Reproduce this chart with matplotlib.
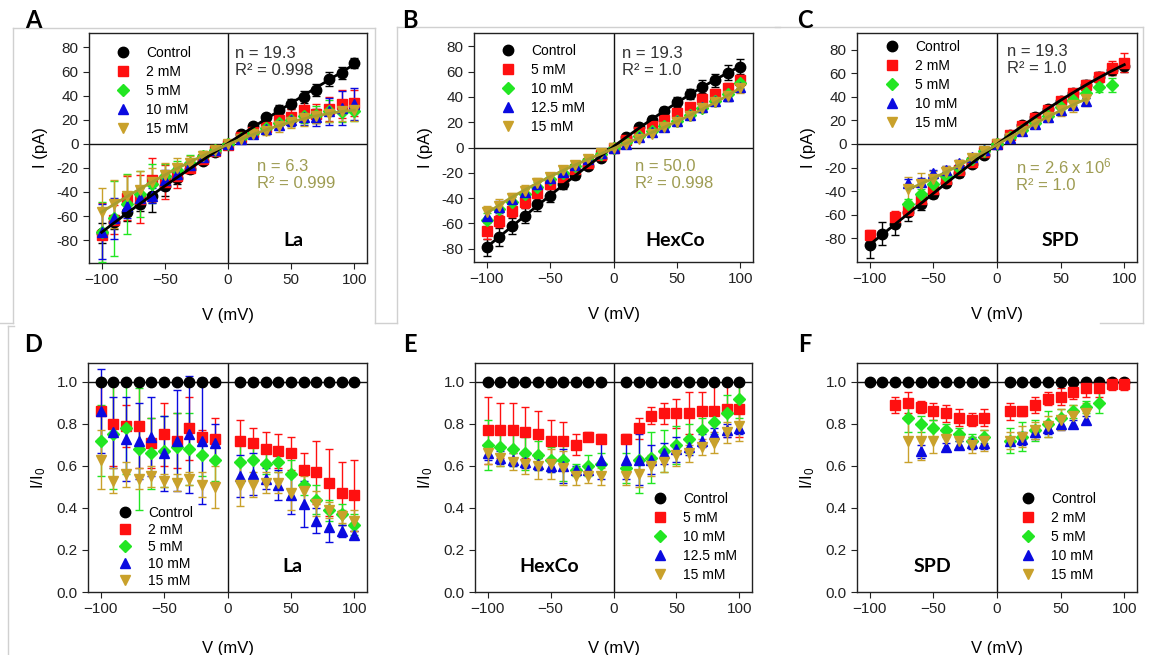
import numpy as np
import matplotlib
matplotlib.use('Agg')
import matplotlib.pyplot as plt
from matplotlib.lines import Line2D

plt.rcParams['font.family'] = ['Liberation Sans', 'DejaVu Sans']
plt.rcParams['mathtext.fontset'] = 'custom'
plt.rcParams['mathtext.rm'] = 'Liberation Sans'
plt.rcParams['mathtext.default'] = 'regular'

nan = np.nan

# ---------------- data ----------------
v_iv = [-100, -90, -80, -70, -60, -50, -40, -30, -20, -10, 0,
        10, 20, 30, 40, 50, 60, 70, 80, 90, 100]
v_norm = [-100, -90, -80, -70, -60, -50, -40, -30, -20, -10,
          10, 20, 30, 40, 50, 60, 70, 80, 90, 100]

# A: La, I-V
a_ctrl = [-74, -65, -57, -50, -43, -35, -28, -21, -14, -7, 0, 8, 15, 22, 28, 33, 39, 45, 54, 59, 67]
a_ctrl_err = [8, 6, 7, 6, 14, 8, 5, 3, 2, 2, 1, 2, 2, 3, 4, 4, 5, 5, 6, 5, 4]
a_2 = [-76, -63, -45, -46, -30, -32, -27, -20, -13, -6, -1, 6, 10, 14, 20, 22, 28, 25, 29, 33, 34]
a_2_err = [27, 12, 18, 20, 18, 14, 10, 4, 3, 2, 1, 3, 3, 5, 6, 7, 8, 8, 10, 12, 11]
a_5 = [-73, -62, -50, -42, -33, -27, -22, -16, -10, -5, 0, 5, 9, 13, 17, 20, 23, 24, 27, 26, 27]
a_5_err = [25, 31, 25, 19, 16, 10, 8, 7, 4, 2, 1, 3, 4, 4, 5, 5, 6, 7, 9, 8, 8]
a_10 = [-73, -62, -52, -45, -43, -30, -25, -18, -11, -5, 0, 4, 8, 12, 16, 20, 22, 22, 27, 30, 33]
a_10_err = [23, 17, 10, 8, 6, 8, 6, 4, 3, 2, 1, 2, 3, 3, 4, 5, 6, 7, 11, 14, 13]
a_15 = [-57, -50, -43, -38, -32, -26, -20, -16, -10, -5, 0, 4, 8, 11, 15, 18, 21, 23, 25, 27, 28]
a_15_err = [20, 20, 17, 15, 12, 10, 8, 6, 4, 2, 1, 3, 3, 4, 5, 5, 6, 6, 7, 8, 9]

# B: HexCo, I-V
b_ctrl = [-79, -71, -62, -54, -45, -38, -29, -22, -15, -8, 0, 8, 16, 22, 29, 36, 42, 48, 53, 59, 64]
b_ctrl_err = [7, 7, 6, 6, 5, 5, 4, 3, 2, 2, 1, 2, 2, 3, 3, 4, 4, 5, 5, 6, 6]
b_5 = [-66, -58, -50, -43, -36, -29, -23, -17, -12, -6, 0, 6, 12, 17, 22, 27, 32, 38, 42, 47, 53]
b_5_err = [6, 5, 5, 5, 4, 4, 4, 3, 2, 2, 1, 2, 2, 2, 3, 3, 3, 4, 4, 4, 4]
b_10 = [-57, -49, -43, -37, -31, -25, -20, -15, -10, -5, 0, 4, 9, 13, 17, 21, 26, 31, 37, 42, 51]
b_10_err = [5, 5, 4, 4, 4, 3, 3, 3, 2, 2, 1, 2, 2, 2, 2, 3, 3, 3, 3, 4, 4]
b_125 = [-54, -47, -41, -35, -29, -24, -19, -14, -9, -4, 0, 3, 8, 12, 16, 21, 26, 32, 37, 41, 48]
b_125_err = [5, 5, 4, 4, 4, 3, 3, 3, 2, 2, 1, 2, 2, 2, 2, 3, 3, 3, 3, 4, 4]
b_15 = [-51, -46, -40, -34, -28, -23, -18, -14, -9, -4, 0, 3, 7, 11, 16, 20, 25, 31, 36, 41, 47]
b_15_err = [5, 5, 4, 4, 4, 3, 3, 3, 2, 2, 1, 2, 2, 2, 2, 3, 3, 3, 3, 4, 4]

# C: SPD, I-V
c_ctrl = [-86, -76, -68, -58, -51, -42, -33, -25, -17, -9, 0, 8, 16, 23, 30, 36, 43, 50, 57, 63, 66]
c_ctrl_err = [11, 10, 9, 7, 5, 4, 3, 3, 2, 2, 1, 2, 2, 3, 3, 3, 3, 4, 4, 5, 5]
c_2 = [-77, nan, -62, -56, -47, -38, -30, -22, -15, -7, 0, 8, 15, 22, 29, 36, 43, 50, 57, 64, 69]
c_2_err = [4, nan, 5, 5, 4, 4, 3, 3, 2, 2, 1, 2, 2, 2, 3, 3, 3, 3, 4, 6, 8]
c_5 = [nan, nan, nan, -51, -42, -34, -27, -20, -13, -6, 0, 6, 12, 18, 24, 31, 37, 43, 48, 50, nan]
c_5_err = [nan, nan, nan, 4, 4, 4, 3, 3, 2, 2, 1, 2, 2, 3, 3, 3, 4, 4, 4, 6, nan]
c_10 = [nan, nan, nan, -33, -32, -25, -22, -16, -11, -5, 0, 5, 11, 17, 23, 29, 33, 36, nan, nan, nan]
c_10_err = [nan, nan, nan, 3, 3, 3, 3, 2, 2, 2, 1, 2, 2, 2, 3, 3, 3, 3, nan, nan, nan]
c_15 = [nan, nan, nan, -38, -34, -30, -24, -18, -12, -6, 0, 5, 11, 17, 23, 29, 33, 38, nan, nan, nan]
c_15_err = [nan, nan, nan, 10, 9, 7, 5, 4, 3, 2, 1, 2, 2, 3, 4, 5, 6, 6, nan, nan, nan]

# D: La, I/I0
d_ctrl = [1.0] * 20
d_2 = [0.86, 0.80, 0.79, 0.79, 0.71, 0.75, 0.72, 0.78, 0.74, 0.73,
       0.72, 0.71, 0.68, 0.67, 0.66, 0.58, 0.57, 0.52, 0.47, 0.46]
d_2_err = [0.13, 0.2, 0.1, 0.2, 0.12, 0.15, 0.13, 0.15, 0.03, 0.1,
           0.1, 0.07, 0.08, 0.08, 0.08, 0.08, 0.15, 0.16, 0.15, 0.17]
d_5 = [0.72, 0.75, 0.78, 0.68, 0.66, 0.67, 0.69, 0.68, 0.65, 0.63,
       0.62, 0.63, 0.61, 0.62, 0.56, 0.51, 0.44, 0.39, 0.37, 0.32]
d_5_err = [0.17, 0.26, 0.22, 0.29, 0.17, 0.17, 0.16, 0.17, 0.1, 0.1,
           0.1, 0.08, 0.05, 0.05, 0.07, 0.05, 0.07, 0.05, 0.05, 0.05]
d_10 = [0.86, 0.76, 0.73, 0.72, 0.74, 0.66, 0.72, 0.75, 0.72, 0.71,
        0.55, 0.56, 0.54, 0.51, 0.46, 0.42, 0.34, 0.31, 0.29, 0.27]
d_10_err = [0.2, 0.17, 0.2, 0.18, 0.19, 0.18, 0.24, 0.28, 0.3, 0.09,
            0.1, 0.1, 0.05, 0.07, 0.09, 0.11, 0.06, 0.07, 0.03, 0.02]
d_15 = [0.63, 0.53, 0.56, 0.54, 0.55, 0.53, 0.52, 0.54, 0.51, 0.50,
        0.51, 0.51, 0.52, 0.52, 0.47, 0.48, 0.42, 0.39, 0.36, 0.34]
d_15_err = [0.14, 0.06, 0.06, 0.05, 0.05, 0.03, 0.04, 0.03, 0.06, 0.1,
            0.1, 0.06, 0.05, 0.05, 0.08, 0.07, 0.06, 0.04, 0.03, 0.05]

# E: HexCo, I/I0
e_ctrl = [1.0] * 20
e_5 = [0.77, 0.77, 0.77, 0.76, 0.75, 0.72, 0.72, 0.70, 0.74, 0.73,
       0.73, 0.78, 0.84, 0.85, 0.85, 0.85, 0.86, 0.86, 0.87, 0.87]
e_5_err = [0.16, 0.13, 0.13, 0.12, 0.11, 0.1, 0.09, 0.05, 0.02, 0.02,
           0.02, 0.05, 0.04, 0.05, 0.07, 0.1, 0.09, 0.13, 0.13, 0.13]
e_10 = [0.70, 0.69, 0.68, 0.66, 0.65, 0.63, 0.63, 0.58, 0.60, 0.61,
        0.59, 0.63, 0.64, 0.67, 0.70, 0.73, 0.77, 0.81, 0.85, 0.92]
e_10_err = [0.12, 0.09, 0.08, 0.08, 0.07, 0.06, 0.1, 0.03, 0.05, 0.05,
            0.07, 0.16, 0.12, 0.1, 0.09, 0.07, 0.06, 0.06, 0.09, 0.09]
e_125 = [0.66, 0.64, 0.63, 0.62, 0.61, 0.60, 0.60, 0.58, 0.58, 0.63,
         0.63, 0.63, 0.63, 0.66, 0.68, 0.69, 0.72, 0.75, 0.77, 0.78]
e_125_err = [0.03, 0.03, 0.03, 0.03, 0.03, 0.03, 0.08, 0.02, 0.02, 0.09,
             0.09, 0.12, 0.07, 0.05, 0.06, 0.04, 0.03, 0.03, 0.03, 0.03]
e_15 = [0.66, 0.64, 0.62, 0.61, 0.60, 0.61, 0.59, 0.55, 0.55, 0.55,
        0.55, 0.56, 0.60, 0.62, 0.65, 0.66, 0.69, 0.71, 0.76, 0.79]
e_15_err = [0.05, 0.04, 0.04, 0.05, 0.06, 0.07, 0.08, 0.04, 0.03, 0.04,
            0.04, 0.06, 0.05, 0.05, 0.05, 0.04, 0.04, 0.05, 0.05, 0.07]

# F: SPD, I/I0
f_ctrl = [1.0] * 20
f_2 = [nan, nan, 0.89, 0.90, 0.88, 0.86, 0.85, 0.83, 0.82, 0.83,
       0.86, 0.86, 0.89, 0.92, 0.93, 0.95, 0.97, 0.97, 0.99, 0.99]
f_2_err = [nan, nan, 0.04, 0.05, 0.03, 0.04, 0.04, 0.04, 0.03, 0.04,
           0.04, 0.02, 0.04, 0.03, 0.04, 0.03, 0.04, 0.04, 0.03, 0.03]
f_5 = [nan, nan, nan, 0.83, 0.80, 0.78, 0.77, 0.75, 0.72, 0.74,
       0.72, 0.74, 0.77, 0.80, 0.83, 0.86, 0.88, 0.90, nan, nan]
f_5_err = [nan, nan, nan, 0.07, 0.04, 0.04, 0.03, 0.03, 0.03, 0.03,
           0.06, 0.07, 0.05, 0.06, 0.04, 0.03, 0.03, 0.05, nan, nan]
f_10 = [nan, nan, nan, nan, 0.67, nan, 0.69, 0.70, 0.71, 0.71,
        0.72, 0.73, 0.76, 0.78, 0.80, 0.80, 0.82, nan, nan, nan]
f_10_err = [nan, nan, nan, nan, 0.03, nan, 0.02, 0.02, 0.03, 0.03,
            0.02, 0.03, 0.03, 0.03, 0.03, 0.02, 0.02, nan, nan, nan]
f_15 = [nan, nan, nan, 0.72, 0.72, 0.72, 0.73, 0.72, 0.70, 0.72,
        0.72, 0.74, 0.77, 0.79, 0.82, 0.84, 0.85, nan, nan, nan]
f_15_err = [nan, nan, nan, 0.1, 0.09, 0.06, 0.05, 0.04, 0.04, 0.05,
            0.04, 0.05, 0.04, 0.05, 0.05, 0.05, 0.05, nan, nan, nan]

labels_a = ['Control', '2 mM', '5 mM', '10 mM', '15 mM']
labels_b = ['Control', '5 mM', '10 mM', '12.5 mM', '15 mM']

# ---------------- style ----------------
colors = ['#000000', '#FF1010', '#22E622', '#0A0AE0', '#C9A12B']
markers = ['o', 's', 'D', '^', 'v']
msizes = [7.5, 7.5, 6.5, 7.5, 7.5]
olive_txt = '#9E9C52'
olive_fit = '#A99D2E'

W, H = 1159, 655
fig = plt.figure(figsize=(W / 100, H / 100), dpi=100)


def fig_xy(x, y):
    return x / W, 1 - y / H


def make_axes(box):
    x0, y0, x1, y1 = box
    return fig.add_axes([x0 / W, 1 - y1 / H, (x1 - x0) / W, (y1 - y0) / H])


def ax_frac(box, x, y):
    x0, y0, x1, y1 = box
    return (x - x0) / (x1 - x0), 1 - (y - y0) / (y1 - y0)


def style_axes(ax, ylim, yticks, ylabel, fmt, xpad):
    ax.set_xlim(-110, 110)
    ax.set_ylim(*ylim)
    ax.set_xticks([-100, -50, 0, 50, 100])
    ax.set_yticks(yticks)
    ax.set_yticklabels([fmt % t for t in yticks])
    ax.tick_params(direction='out', length=4, width=0.8, labelsize=11,
                   colors='#222222', top=False, right=False)
    for s in ax.spines.values():
        s.set_linewidth(1.0)
        s.set_color('#222222')
    ax.set_xlabel('V (mV)', fontsize=12, labelpad=xpad)
    ax.set_ylabel(ylabel, fontsize=12, labelpad=6)


def add_legend(ax, box, labels, mx, my, spacing):
    handles = [Line2D([], [], ls='none', marker=m, color=c, ms=s)
               for m, c, s in zip(markers, colors, msizes)]
    bx, by = ax_frac(box, mx - 7, my - 8)
    ax.legend(handles, labels, loc='upper left', bbox_to_anchor=(bx, by),
              frameon=False, fontsize=10, borderpad=0, borderaxespad=0,
              handlelength=1.0, handletextpad=1.15, labelspacing=spacing)


def plot_series(ax, x, ys, errs):
    for y, e, c, m, s in zip(ys, errs, colors, markers, msizes):
        ax.errorbar(x, y, yerr=e, fmt=m, color=c, ms=s, mec=c,
                    elinewidth=1, capsize=3, capthick=1, zorder=3)


def fit_line(ax, x, y, color):
    x = np.array(x, float)
    y = np.array(y, float)
    ok = ~np.isnan(y)
    p = np.polyfit(x[ok], y[ok], 3)
    xx = np.linspace(x[ok].min(), x[ok].max(), 200)
    ax.plot(xx, np.polyval(p, xx), color=color, lw=2, zorder=4)


boxes = {'A': (89, 33, 367, 263), 'B': (474, 33, 753, 262), 'C': (857, 33, 1137, 262),
         'D': (88, 363, 367, 592), 'E': (475, 363, 752, 592), 'F': (857, 363, 1137, 592)}

iv_ticks = [-80, -60, -40, -20, 0, 20, 40, 60, 80]
nm_ticks = [0.0, 0.2, 0.4, 0.6, 0.8, 1.0]

top_panels = [
    ('A', (-99, 92), [a_ctrl, a_2, a_5, a_10, a_15],
     [a_ctrl_err, a_2_err, a_5_err, a_10_err, a_15_err], labels_a,
     'n = 19.3\nR² = 0.998', 'n = 6.3\nR² = 0.999', 'La',
     (123, 54), (235, 62), (257, 175), (293, 240)),
    ('B', (-90.5, 90.5), [b_ctrl, b_5, b_10, b_125, b_15],
     [b_ctrl_err, b_5_err, b_10_err, b_125_err, b_15_err], labels_b,
     'n = 19.3\nR² = 1.0', 'n = 50.0\nR² = 0.998', 'HexCo',
     (508, 52), (622, 62), (635, 175), (675, 240)),
    ('C', (-100, 94), [c_ctrl, c_2, c_5, c_10, c_15],
     [c_ctrl_err, c_2_err, c_5_err, c_10_err, c_15_err], labels_a,
     'n = 19.3\nR² = 1.0', 'n = 2.6 x 10$^6$\nR² = 1.0', 'SPD',
     (892, 48), (1007, 60), (1016, 175), (1060, 240)),
]

for key, ylim, ys, errs, labs, t1, t2, name, leg, p1, p2, p3 in top_panels:
    box = boxes[key]
    ax = make_axes(box)
    ax.axhline(0, color='#111111', lw=1, zorder=1)
    ax.axvline(0, color='#111111', lw=1, zorder=1)
    plot_series(ax, v_iv, ys, errs)
    fit_line(ax, v_iv, ys[0], 'black')
    fit_line(ax, v_iv, ys[4], olive_fit)
    style_axes(ax, ylim, iv_ticks, 'I (pA)', '%d', 15)
    add_legend(ax, box, labs, *leg, 0.36)
    ax.text(*ax_frac(box, *p1), t1, transform=ax.transAxes, fontsize=12,
            color='#333333', ha='left', va='center', linespacing=1.1)
    ax.text(*ax_frac(box, *p2), t2, transform=ax.transAxes, fontsize=12,
            color=olive_txt, ha='left', va='center', linespacing=1.1)
    ax.text(*ax_frac(box, *p3), name, transform=ax.transAxes, fontsize=14,
            family='Lato', fontweight='bold', ha='center', va='center')

bottom_panels = [
    ('D', [d_ctrl, d_2, d_5, d_10, d_15],
     [None, d_2_err, d_5_err, d_10_err, d_15_err], labels_a, 'La',
     (125, 514), (292, 566), 0.22),
    ('E', [e_ctrl, e_5, e_10, e_125, e_15],
     [None, e_5_err, e_10_err, e_125_err, e_15_err], labels_b, 'HexCo',
     (660, 500), (549, 566), 0.36),
    ('F', [f_ctrl, f_2, f_5, f_10, f_15],
     [None, f_2_err, f_5_err, f_10_err, f_15_err], labels_a, 'SPD',
     (1028, 500), (932, 566), 0.36),
]

for key, ys, errs, labs, name, leg, p3, sp in bottom_panels:
    box = boxes[key]
    ax = make_axes(box)
    ax.axhline(1.0, color='#111111', lw=1, zorder=1)
    ax.axvline(0, color='#111111', lw=1, zorder=1)
    plot_series(ax, v_norm, ys, errs)
    style_axes(ax, (0, 1.09), nm_ticks, 'I/I$_0$', '%.1f', 18)
    add_legend(ax, box, labs, *leg, sp)
    ax.text(*ax_frac(box, *p3), name, transform=ax.transAxes, fontsize=14,
            family='Lato', fontweight='bold', ha='center', va='center')

# panel letters
for letter, (x, y) in zip('ABCDEF', [(33, 20), (410, 20), (805, 20),
                                      (33, 345), (410, 345), (805, 345)]):
    fig.text(*fig_xy(x, y), letter, fontsize=17, family='Lato',
             fontweight='bold', ha='center', va='center')

# faint frame lines from the original composite
frame = [((13, 28), (375, 28)), ((13, 28), (13, 323)), ((375, 28), (375, 323)),
         ((397, 27), (780, 27)), ((397, 27), (397, 323)),
         ((775, 27), (1143, 27)), ((1143, 27), (1143, 323)), ((1100, 323), (1143, 323)),
         ((0, 323), (13, 323)), ((375, 323), (397, 323)),
         ((8, 326), (8, 655)), ((8, 326), (14, 326))]
for (x0, y0), (x1, y1) in frame:
    fx0, fy0 = fig_xy(x0, y0)
    fx1, fy1 = fig_xy(x1, y1)
    fig.add_artist(Line2D([fx0, fx1], [fy0, fy1], transform=fig.transFigure,
                          color='#D0D0D0', lw=1))

fig.savefig('out.png', dpi=100)
